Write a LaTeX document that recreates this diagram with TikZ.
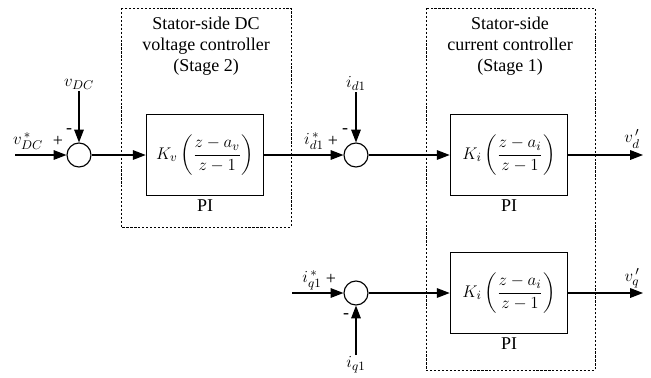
\documentclass[tikz,border=0pt]{standalone}
\usepackage{amsmath}
\usepackage{fontspec}
\setmainfont{Liberation Serif}
\usetikzlibrary{arrows.meta}
\tikzset{
  blk/.style={draw,line width=1pt,minimum width=2.93cm,minimum height=2.02cm,inner sep=1pt},
  sumnode/.style={draw,line width=0.8pt,circle,minimum size=0.6cm,inner sep=0pt},
  grp/.style={draw,line width=0.5pt,dash pattern=on 1.6pt off 1.2pt},
  sig/.style={line width=0.8pt,-{Triangle[length=3.2mm,width=2.4mm]}}
}
\begin{document}
\begin{tikzpicture}[x=0.025cm,y=-0.025cm,font=\fontsize{12.8}{15}\selectfont]
  \useasboundingbox (0,0) rectangle (651,377);
  % dashed groups
  \draw[grp] (121,8) rectangle (291,227);
  \draw[grp] (426,8) rectangle (595,370);
  \node[align=center] (ttlv) at (206,46) {Stator-side DC\\voltage controller\\(Stage 2)};
  \node[align=center] (ttli) at (510,46) {Stator-side\\current controller\\(Stage 1)};
  % blocks
  \node[blk,label={[yshift=1pt]below:PI}] (kv) at (205,155) {$K_v\left(\dfrac{z-a_v}{z-1}\right)$};
  \node[blk,label={[yshift=1pt]below:PI}] (kid) at (509,155) {$K_i\left(\dfrac{z-a_i}{z-1}\right)$};
  \node[blk,label={[yshift=1pt]below:PI}] (kiq) at (509,293) {$K_i\left(\dfrac{z-a_i}{z-1}\right)$};
  % summing junctions
  \node[sumnode] (sumv) at (79,155) {};
  \node[sumnode] (sumd) at (356,155) {};
  \node[sumnode] (sumq) at (356,293) {};
  % ends
  \coordinate (vin) at (15,155);
  \coordinate[label={[inner sep=1pt]above:$v_{DC}$}] (vfb) at (79,91);
  \coordinate[label={[inner sep=1pt]above:$i_{d1}$}] (idfb) at (356,92);
  \coordinate (iqin) at (292,293);
  \coordinate[label={[inner sep=1pt]below:$i_{q1}$}] (iqfb) at (356,355);
  \coordinate (vdout) at (643,155);
  \coordinate (vqout) at (643,293);
  % signal labels
  \node (vref) at (28,141) {$v_{DC}^{\,*}$};
  \node (idref) at (314,141) {$i_{d1}^{\,*}$};
  \node (iqref) at (312,280) {$i_{q1}^{\,*}$};
  \node (vd) at (632,139) {$v_d^{\,\prime}$};
  \node (vq) at (632,278) {$v_q^{\,\prime}$};
  \node at (58,141) {+};
  \node at (69,131) {-};
  \node at (333,141) {+};
  \node at (345,131) {-};
  \node at (331,279) {+};
  \node at (346,316) {-};
  % connectors
  \draw[sig] (vin) -- (sumv);
  \draw[sig] (vfb) -- (sumv);
  \draw[sig] (sumv) -- (kv);
  \draw[sig] (kv) -- (sumd);
  \draw[sig] (idfb) -- (sumd);
  \draw[sig] (sumd) -- (kid);
  \draw[sig] (kid) -- (vdout);
  \draw[sig] (iqin) -- (sumq);
  \draw[sig] (iqfb) -- (sumq);
  \draw[sig] (sumq) -- (kiq);
  \draw[sig] (kiq) -- (vqout);
\end{tikzpicture}
\end{document}
